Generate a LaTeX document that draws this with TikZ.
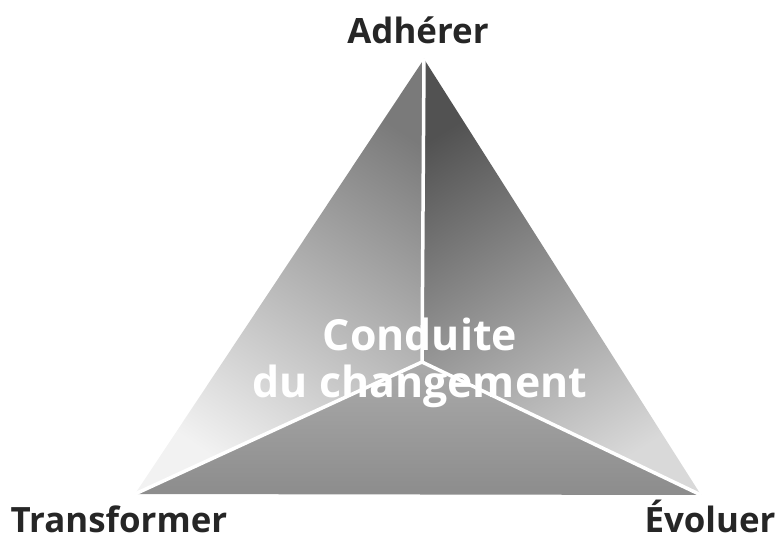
\documentclass[tikz,border=0pt]{standalone}
\usepackage{fontspec}
\setmainfont{Open Sans}
\usepackage{tikz}

\begin{document}
\begin{tikzpicture}[x=1bp,y=1bp]
\tikzstyle{corner}=[font=\fontsize{35}{38}\selectfont\bfseries,text=black!85,anchor=base]
\tikzstyle{middle}=[font=\fontsize{43}{47}\selectfont\bfseries,text=white,align=center]
\tikzstyle{split}=[draw=white,line width=3.5bp]
  \useasboundingbox (0,0) rectangle (781,541);
  \coordinate (top) at (424,482);
  \coordinate (left) at (135,47);
  \coordinate (right) at (701,46);
  \coordinate (mid) at (422,179);

  \shade [top color=black!52,bottom color=black!5,shading angle=-34] (top) -- (mid) -- (left) -- cycle;
  \shade [top color=black!68,bottom color=black!15,shading angle=32] (top) -- (right) -- (mid) -- cycle;
  \shade [top color=black!33,bottom color=black!45] (mid) -- (right) -- (left) -- cycle;

  \draw [split] (mid) -- (top);
  \draw [split] (mid) -- (left);
  \draw [split] (mid) -- (right);

  \node (adh) at (418,497) [corner] {Adhérer};
  \node (tra) at (119,8) [corner] {Transformer};
  \node (evo) at (710,8) [corner] {Évoluer};
  \node (cdc) at (420,178) [middle] {Conduite\\du changement};
\end{tikzpicture}
\end{document}
